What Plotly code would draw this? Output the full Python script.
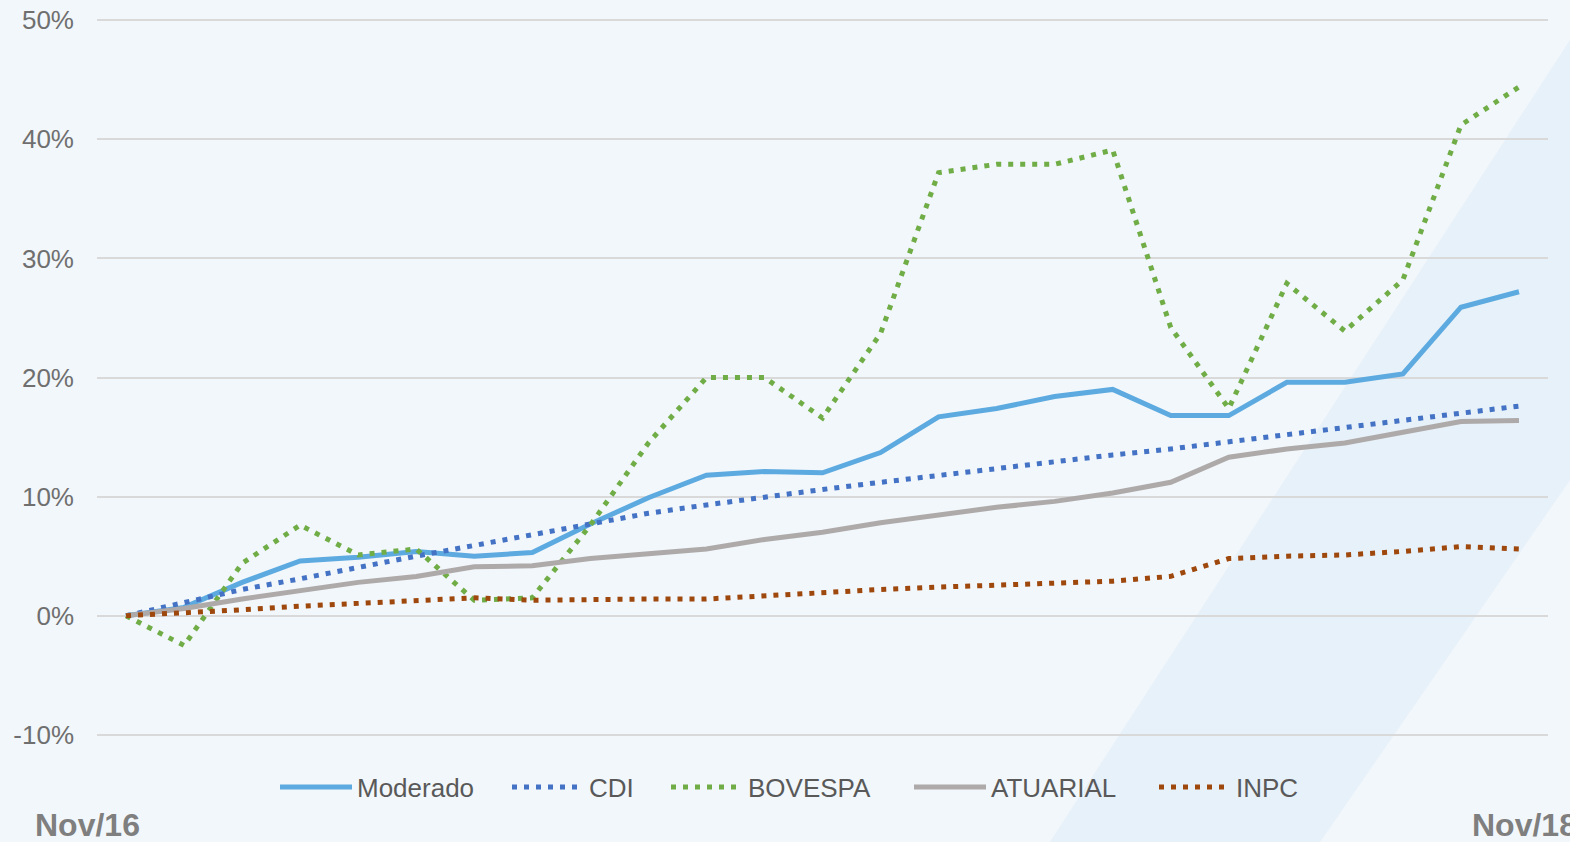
import plotly.graph_objects as go

months = ["Nov/16", "Dez/16", "Jan/17", "Fev/17", "Mar/17", "Abr/17", "Mai/17", "Jun/17",
          "Jul/17", "Ago/17", "Set/17", "Out/17", "Nov/17", "Dez/17", "Jan/18", "Fev/18",
          "Mar/18", "Abr/18", "Mai/18", "Jun/18", "Jul/18", "Ago/18", "Set/18", "Out/18", "Nov/18"]

moderado = [0, 0.7, 2.8, 4.6, 4.9, 5.4, 5.0, 5.3, 7.7, 9.9, 11.8, 12.1, 12.0, 13.7, 16.7,
            17.4, 18.4, 19.0, 16.8, 16.8, 19.6, 19.6, 20.3, 25.9, 27.2]
cdi = [0, 1.1, 2.2, 3.1, 4.1, 5.0, 5.9, 6.8, 7.7, 8.6, 9.3, 10.0, 10.6, 11.2, 11.8,
       12.4, 13.0, 13.5, 14.0, 14.6, 15.2, 15.8, 16.3, 16.9, 17.6]
bovespa = [0, -2.5, 4.4, 7.6, 5.1, 5.6, 1.3, 1.5, 7.6, 14.5, 20.0, 20.0, 16.6, 23.7, 37.2,
           37.9, 37.9, 39.1, 24.2, 17.4, 27.9, 23.9, 28.2, 41.2, 44.4]
atuarial = [0, 0.6, 1.4, 2.1, 2.8, 3.3, 4.1, 4.2, 4.8, 5.2, 5.6, 6.4, 7.0, 7.8, 8.5,
            9.1, 9.6, 10.3, 11.2, 13.3, 14.0, 14.5, 15.4, 16.3, 16.4]
inpc = [0, 0.2, 0.5, 0.8, 1.0, 1.2, 1.5, 1.3, 1.4, 1.4, 1.4, 1.7, 1.9, 2.2, 2.4,
        2.6, 2.7, 2.9, 3.3, 4.8, 5.0, 5.1, 5.4, 5.8, 5.6]

y_tick_vals = [-10, 0, 10, 20, 30, 40, 50]
y_tick_text = ["-10%", "0%", "10%", "20%", "30%", "40%", "50%"]

series = [
    ("Moderado", moderado, "#5DAAE0", "solid"),
    ("CDI", cdi, "#4472C4", "5px,7px"),
    ("BOVESPA", bovespa, "#70AD47", "5px,7px"),
    ("ATUARIAL", atuarial, "#AEAAAA", "solid"),
    ("INPC", inpc, "#9E480E", "5px,7px"),
]

W, H = 1570, 842
L, R, T, B = 97, 22, 19, 106
pw, ph = W - L - R, H - T - B


def px(xp):
    return (xp - L) / pw


def py(yp):
    return (H - B - yp) / ph


legend_starts = [281, 513, 672, 915, 1160]

fig = go.Figure()
legend_layouts = {}
for i, (name, vals, color, dash) in enumerate(series):
    lname = "legend" if i == 0 else "legend%d" % (i + 1)
    fig.add_trace(go.Scatter(
        x=months, y=vals, name=name, mode="lines",
        line=dict(color=color, width=5, dash=dash),
        legend=lname,
    ))
    legend_layouts[lname] = dict(
        orientation="h", x=px(legend_starts[i] - 6), xanchor="left",
        y=py(787), yanchor="middle", font=dict(size=26, color="#595959"),
        bgcolor="rgba(0,0,0,0)", itemwidth=72,
    )

# subtle diagonal background band
band = "M {} {} L {} {} L {} {} L {} {} Z".format(
    px(1050), py(842), px(1320), py(842), px(1570), py(480), px(1570), py(40))
fig.add_shape(type="path", path=band, xref="paper", yref="paper",
              fillcolor="rgba(200,224,244,0.25)", line=dict(width=0), layer="below")

fig.update_layout(
    width=W, height=H,
    margin=dict(l=L, r=R, t=T, b=B, pad=0, autoexpand=False),
    paper_bgcolor="#f2f7fb",
    plot_bgcolor="rgba(0,0,0,0)",
    font=dict(family="Liberation Sans, Arial, sans-serif", size=26, color="#6f6f6f"),
    showlegend=True,
    xaxis=dict(type="category", range=[-0.5, len(months) - 0.5], showgrid=False,
               showticklabels=False, zeroline=False, showline=False, ticks="",
               automargin=False),
    yaxis=dict(range=[-10.1, 50.1], tickvals=y_tick_vals, ticktext=y_tick_text,
               showgrid=True, gridcolor="#d9d9d9", gridwidth=2, zeroline=False,
               showline=False, ticks="", ticklabelstandoff=22, automargin=False,
               tickfont=dict(size=26, color="#6f6f6f")),
    **legend_layouts,
)

fig.add_annotation(text="<b>" + months[0] + "</b>", xref="paper", yref="paper",
                   x=px(33), y=py(825), xanchor="left", yanchor="middle", showarrow=False,
                   font=dict(size=32, color="#7f7f7f"))
fig.add_annotation(text="<b>" + months[-1] + "</b>", xref="paper", yref="paper",
                   x=px(1470), y=py(825), xanchor="left", yanchor="middle", showarrow=False,
                   font=dict(size=32, color="#7f7f7f"))

fig.write_html("out.html", config={"displayModeBar": False},
               post_script="document.body.style.margin='0px';")
